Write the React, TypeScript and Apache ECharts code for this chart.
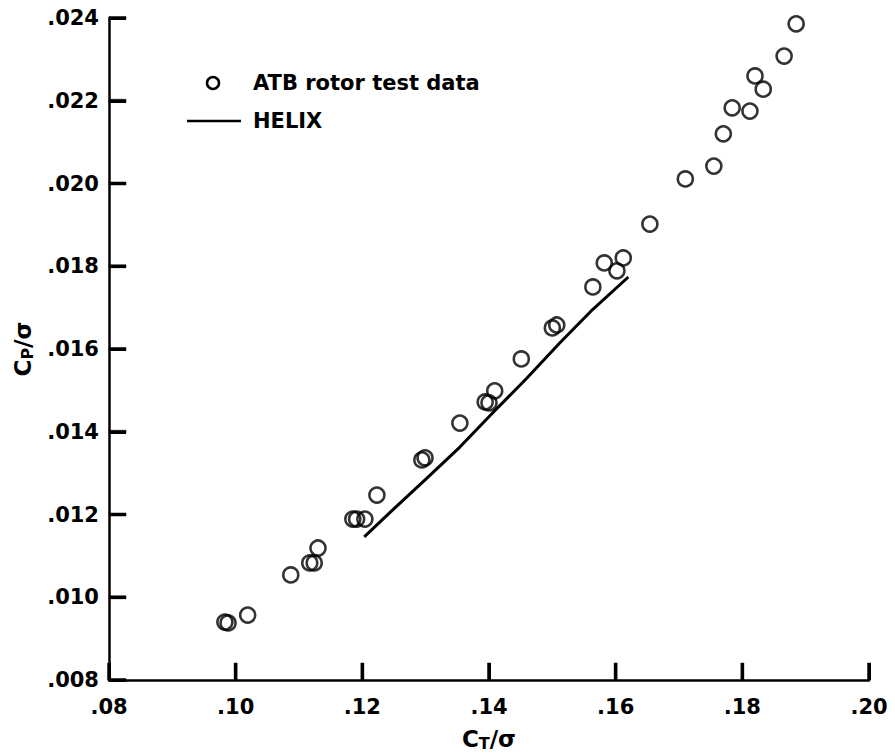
import React, { useEffect, useRef } from "react";
import * as echarts from "echarts";

// ATB rotor test data (C_T/σ, C_P/σ)
const testCT = [
  0.0983, 0.0988, 0.1019, 0.1087, 0.1117, 0.1124, 0.1130, 0.1185, 0.1191,
  0.1204, 0.1223, 0.1294, 0.1299, 0.1354, 0.1394, 0.1400, 0.1409, 0.1451,
  0.1500, 0.1507, 0.1564, 0.1582, 0.1602, 0.1612, 0.1654, 0.1710, 0.1755,
  0.1770, 0.1784, 0.1812, 0.1820, 0.1833, 0.1866, 0.1885,
];
const testCP = [
  0.00940, 0.00938, 0.00957, 0.01054, 0.01083, 0.01083, 0.01119, 0.01189, 0.01189,
  0.01189, 0.01247, 0.01332, 0.01337, 0.01421, 0.01472, 0.01470, 0.01499, 0.01576,
  0.01651, 0.01658, 0.01750, 0.01808, 0.01789, 0.01820, 0.01902, 0.02011, 0.02042,
  0.02120, 0.02183, 0.02175, 0.02260, 0.02228, 0.02308, 0.02386,
];

// HELIX prediction
const helixCT = [0.1203, 0.1248, 0.1302, 0.1354, 0.1406, 0.1460, 0.1512, 0.1564, 0.1620];
const helixCP = [0.01146, 0.01211, 0.01288, 0.01363, 0.01446, 0.01530, 0.01615, 0.01696, 0.01774];

// axis ticks
const xTickValues = [0.08, 0.1, 0.12, 0.14, 0.16, 0.18, 0.2];
const yTickValues = [0.008, 0.01, 0.012, 0.014, 0.016, 0.018, 0.02, 0.022, 0.024];
const xTicks = { min: 0.08, max: 0.2, interval: 0.02 };
const yTicks = { min: 0.008, max: 0.024, interval: 0.002 };

const legendNames = ["ATB rotor test data", "HELIX"];

const FONT = "DejaVu Sans, Liberation Sans, Arial, sans-serif";
const TICK_LEN = 17;

export default function App() {
  const ref = useRef<HTMLDivElement>(null);

  useEffect(() => {
    document.body.style.margin = "0";
    if (!ref.current) return;
    const chart = echarts.init(ref.current, undefined, { renderer: "svg" });

    const labelStyle = {
      color: "#000",
      fontFamily: FONT,
      fontWeight: "bold",
      fontSize: 21,
    };
    const nameStyle = {
      color: "#000",
      fontFamily: FONT,
      fontWeight: "bold",
      fontSize: 23,
      rich: {
        sub: {
          fontFamily: FONT,
          fontWeight: "bold",
          fontSize: 16,
          color: "#000",
          verticalAlign: "bottom",
          padding: [9, 0, 0, 0],
        },
      },
    };
    const tickStyle = {
      show: true,
      inside: true,
      length: TICK_LEN,
      lineStyle: { color: "#000", width: 3, opacity: 1 },
    };

    const legendGraphics: any[] = [
      {
        type: "circle",
        shape: { cx: 213, cy: 83, r: 6 },
        style: { fill: "none", stroke: "#000", lineWidth: 2.5 },
      },
      {
        type: "text",
        x: 253,
        y: 83,
        style: {
          text: legendNames[0],
          fill: "#000",
          font: `bold 21px ${FONT}`,
          verticalAlign: "middle",
        },
      },
      {
        type: "line",
        shape: { x1: 187, y1: 121, x2: 241, y2: 121 },
        style: { stroke: "#000", lineWidth: 2.5 },
      },
      {
        type: "text",
        x: 253,
        y: 121,
        style: {
          text: legendNames[1],
          fill: "#000",
          font: `bold 21px ${FONT}`,
          verticalAlign: "middle",
        },
      },
    ];

    chart.setOption({
      animation: false,
      backgroundColor: "#fff",
      grid: {
        left: 109,
        right: 26,
        top: 18,
        bottom: 76,
        containLabel: false,
        outerBoundsMode: "none",
      },
      xAxis: {
        type: "value",
        min: xTicks.min,
        max: xTicks.max,
        interval: xTicks.interval,
        axisLine: { show: true, onZero: false, lineStyle: { color: "#000", width: 2.5 } },
        axisTick: tickStyle,
        splitLine: { show: false },
        axisLabel: {
          show: true,
          ...labelStyle,
          margin: 16,
          formatter: (v: number) => v.toFixed(2).replace(/^0/, ""),
        },
        name: "C{sub|T}/σ",
        nameLocation: "middle",
        nameGap: 46,
        nameTextStyle: nameStyle,
      },
      yAxis: {
        type: "value",
        min: yTicks.min,
        max: yTicks.max,
        interval: yTicks.interval,
        axisLine: { show: true, onZero: false, lineStyle: { color: "#000", width: 2.5 } },
        axisTick: tickStyle,
        splitLine: { show: false },
        axisLabel: {
          show: true,
          ...labelStyle,
          margin: 10,
          formatter: (v: number) => v.toFixed(3).replace(/^0/, ""),
        },
        name: "C{sub|P}/σ",
        nameLocation: "middle",
        nameGap: 74,
        nameRotate: 90,
        nameTextStyle: nameStyle,
      },
      graphic: legendGraphics,
      series: [
        {
          name: legendNames[0],
          type: "scatter",
          data: testCT.map((x, i) => [x, testCP[i]]),
          symbol: "circle",
          symbolSize: 15,
          itemStyle: { color: "rgba(0,0,0,0)", borderColor: "#000", borderWidth: 2.6 },
          emphasis: { disabled: true },
        },
        {
          name: legendNames[1],
          type: "line",
          data: helixCT.map((x, i) => [x, helixCP[i]]),
          smooth: false,
          showSymbol: false,
          symbol: "none",
          lineStyle: { color: "#000", width: 3 },
          emphasis: { disabled: true },
        },
      ],
    });

    // tick marks also placed through the chart's own scales
    const tickGraphics: any[] = [];
    xTickValues.forEach((v) => {
      const p = chart.convertToPixel({ gridIndex: 0 }, [v, yTicks.min]) as number[];
      if (!p) return;
      tickGraphics.push({
        type: "rect",
        z: 100,
        shape: { x: p[0] - 1.5, y: p[1] - TICK_LEN, width: 3, height: TICK_LEN },
        style: { fill: "#000", stroke: "#000", lineWidth: 0.5 },
      });
    });
    yTickValues.forEach((v) => {
      const p = chart.convertToPixel({ gridIndex: 0 }, [xTicks.min, v]) as number[];
      if (!p) return;
      tickGraphics.push({
        type: "rect",
        z: 100,
        shape: { x: p[0], y: p[1] - 1.5, width: TICK_LEN, height: 3 },
        style: { fill: "#000", stroke: "#000", lineWidth: 0.5 },
      });
    });
    chart.setOption({ graphic: [...legendGraphics, ...tickGraphics] });

    return () => chart.dispose();
  }, []);

  return <div ref={ref} style={{ width: 895, height: 756 }} />;
}
